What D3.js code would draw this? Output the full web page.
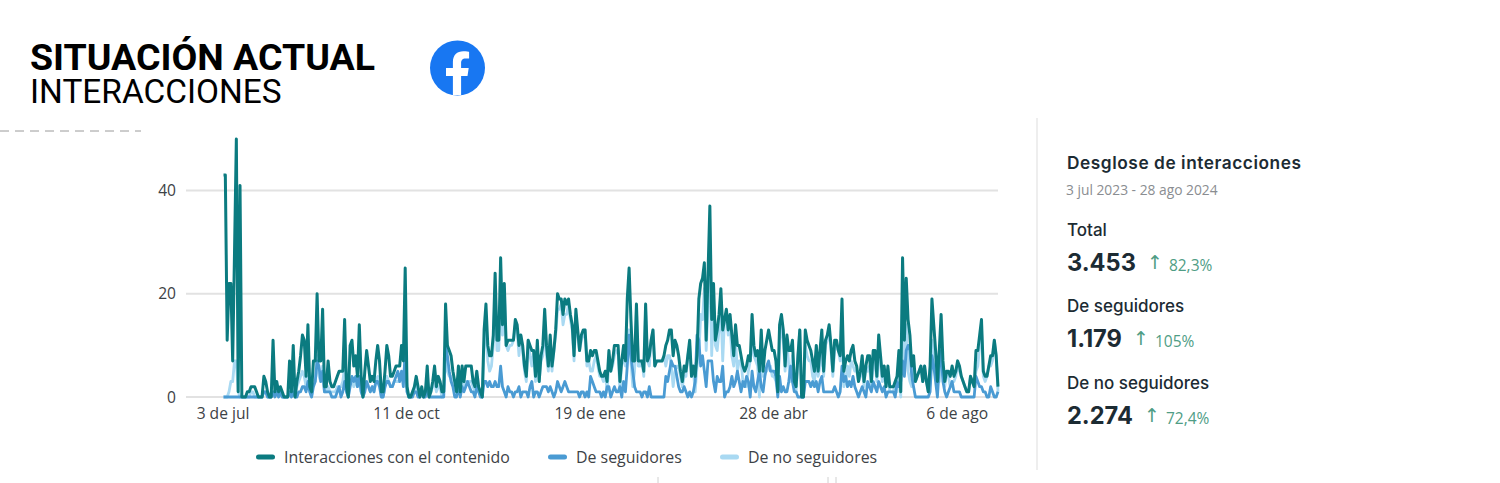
<!DOCTYPE html>
<html lang="es">
<head>
<meta charset="utf-8">
<title>Situación actual - Interacciones</title>
<script src="https://cdn.jsdelivr.net/npm/d3@7"></script>
<style>
  html, body { margin: 0; padding: 0; background: #fff; }
  svg { display: block; }
  .tick text { font-family: "Open Sans", sans-serif; font-size: 15.6px; fill: #3d4246; }
</style>
</head>
<body>
<svg id="chart" width="1500" height="483"></svg>
<script>
// Daily interactions, 3 Jul 2023 - 28 Aug 2024
const totalInteractions = [
  43,43,11,22,22,7,28,50,1,41, 0,0,0,1,1,2,2,2,1,0, 0,0,4,3,1,0,0,11,1,3, 1,2,1,0,0,0,7,1,10,0,
  3,5,8,12,11,4,14,2,1,7, 7,20,7,7,17,2,2,7,3,2, 2,3,4,5,5,5,15,2,0,10, 11,6,8,4,14,4,0,5,9,6,
  3,4,3,7,10,7,1,1,5,10, 8,4,4,5,6,6,6,10,7,25, 2,0,0,1,2,4,2,0,2,0, 1,6,0,1,3,6,2,4,3,1,
  1,18,10,9,8,5,3,1,6,1, 6,3,6,6,6,6,3,2,5,2, 1,0,13,18,10,8,8,12,24,11, 11,27,14,22,10,11,11,11,11,15,
  14,10,12,10,6,4,11,10,9,9, 4,11,3,8,10,17,10,6,12,6, 9,13,20,19,19,16,19,18,19,16, 14,8,17,13,9,12,13,13,7,7,
  9,8,9,9,7,5,4,4,5,3, 9,5,7,10,10,10,3,7,10,
  7,19,25,15,7,7,18,7,7,7, 5,18,7,8,11,13,6,7,7,7, 7,8,10,11,13,13,8,11,10,8, 5,3,6,5,8,11,4,6,4,8,
  19,22,23,26,11,24,37,15,22,11, 13,16,21,13,15,17,13,16,12,8, 14,10,10,8,6,5,6,8,7,16, 10,8,9,5,13,5,9,11,13,11,
  9,9,7,1,14,16,13,6,12,9, 9,11,3,2,8,13,0,0,13,11, 10,9,7,5,10,5,9,13,5,11, 12,14,10,5,11,11,9,8,19,5,
  7,8,7,9,10,7,6,3,5,8, 3,6,8,8,3,9,9,4,12,8, 4,6,2,6,2,2,2,3,4,9, 1,27,11,23,15,12,6,8,3,4,
  5,6,3,6,3,1,6,19,14,9, 3,9,16,7,3,5,5,4,6,4, 5,7,6,4,3,2,1,1,4,3, 2,9,9,12,15,5,4,4,6,8, 8,11,8,2
];
const fromFollowers = [
  0,0,0,0,0,0,0,0,0,0, 0,0,0,0,0,0,0,0,0,0, 0,0,1,1,0,0,0,1,0,1, 0,1,0,0,0,0,1,0,1,0,
  0,1,1,2,2,1,3,1,0,2, 3,7,6,3,5,1,1,1,1,0, 0,0,1,2,0,1,3,1,0,2, 4,3,4,2,4,1,0,1,3,2,
  1,2,1,3,3,2,0,0,2,3, 3,2,2,3,4,5,3,5,2,9, 1,0,0,0,1,1,0,0,1,0, 0,2,0,0,0,0,0,0,0,0,
  0,10,8,5,3,2,0,0,2,0, 2,1,2,3,2,1,1,0,2,1, 0,0,3,3,2,3,2,2,3,2, 2,6,2,1,0,2,1,1,0,1,
  1,2,0,1,1,1,0,2,3,0, 1,1,0,1,2,2,2,1,2,1, 0,1,3,2,1,2,3,2,1,1, 1,1,1,1,0,1,1,0,1,0,
  4,3,2,1,1,1,0,1,0,2, 2,0,1,2,1,1,2,0,3,
  1,6,12,8,5,2,1,1,1,0, 1,1,0,2,0,0,0,0,0,0, 0,0,4,3,5,7,6,6,4,2, 1,1,2,1,0,1,0,1,3,12,
  11,6,8,5,2,7,7,7,3,1, 4,3,3,6,0,1,1,2,4,2, 3,5,3,1,3,2,4,3,0,5, 2,1,3,5,2,1,4,6,7,5,
  5,5,4,0,4,1,2,1,1,3, 6,3,1,1,0,0,0,0,3,3, 3,2,3,2,3,1,3,4,1,1, 1,1,1,1,2,1,0,1,6,3,
  4,2,3,2,4,2,1,0,1,2, 1,0,3,2,1,3,2,1,3,2, 1,2,0,1,1,1,1,0,3,2, 3,7,4,9,10,9,4,2,0,0,
  0,0,0,0,0,0,1,8,6,3, 0,6,9,3,1,0,1,2,3,1, 1,1,1,0,0,0,0,0,0,0, 0,4,3,2,2,1,1,0,0,2, 1,0,0,1
];
const fromNonFollowers = [
  0,0,0,1,3,3,7,7,1,0, 0,0,0,0,0,1,1,0,0,0, 0,0,1,1,0,0,0,1,1,1, 0,1,0,0,0,0,1,0,2,0,
  2,3,4,5,4,2,4,1,0,3, 3,8,4,3,6,1,1,2,1,1, 1,1,2,2,2,3,6,1,0,3, 3,2,3,2,4,1,0,2,3,2,
  1,2,1,3,4,3,0,0,2,4, 3,2,2,3,3,3,3,4,3,8, 1,0,0,1,1,2,1,0,1,0, 1,3,0,1,2,3,1,2,2,0,
  1,8,5,4,4,3,2,1,3,1, 3,2,3,3,3,3,2,1,3,1, 1,0,10,15,7,5,6,10,21,9, 9,21,12,21,10,9,10,10,11,14,
  13,8,12,9,5,3,11,8,6,9, 3,10,3,7,8,15,8,5,10,5, 9,12,17,17,18,14,16,16,18,15, 13,7,16,12,9,11,12,13,6,7,
  5,5,7,8,6,4,4,3,5,1, 7,5,6,8,9,9,1,7,7,
  6,13,13,7,2,5,17,6,6,7, 4,17,7,6,11,13,6,7,7,7, 7,8,6,8,8,6,2,5,6,6, 4,2,4,4,8,10,4,5,1,6,
  8,16,15,21,9,17,30,8,19,10, 9,13,18,7,15,16,12,14,8,6, 11,5,7,7,3,3,2,5,7,11, 8,7,6,0,11,4,5,5,6,6,
  4,4,3,1,10,15,11,5,11,6, 3,8,2,1,8,13,0,0,10,8, 7,7,4,3,7,4,6,9,4,10, 11,13,9,4,9,10,9,7,13,2,
  3,6,4,7,6,5,5,3,4,6, 2,6,5,6,2,6,7,3,9,6, 3,4,2,5,1,1,1,3,1,7, 0,20,7,14,5,3,2,6,3,4,
  5,6,3,6,3,1,5,11,8,6, 3,3,7,4,2,5,4,2,3,3, 4,6,5,4,3,2,1,1,4,3, 2,5,6,10,13,4,3,4,6,6, 7,11,8,1
];

const yTicks = [0, 20, 40];
const xTickDays = [0, 100, 200, 300, 400];
const xTickLabels = ["3 de jul", "11 de oct", "19 de ene", "28 de abr", "6 de ago"];
const legendLabels = ["Interacciones con el contenido", "De seguidores", "De no seguidores"];
const seriesColors = ["#0b7b80", "#4a9bd3", "#a9d9f2"];
const breakdown = [
  { label: "Total", value: "3.453", change: "82,3%" },
  { label: "De seguidores", value: "1.179", change: "105%" },
  { label: "De no seguidores", value: "2.274", change: "72,4%" }
];

const svg = d3.select("#chart");
const x = d3.scaleLinear().domain([0, totalInteractions.length - 1]).range([223.5, 998]);
const y = d3.scaleLinear().domain([0, 50]).range([397, 139]);

// Heading
const fontHead = "Roboto, sans-serif";
svg.append("text").attr("x", 30).attr("y", 69.5)
  .style("font", `700 37.5px ${fontHead}`).attr("fill", "#000").text("SITUACIÓN ACTUAL");
svg.append("text").attr("x", 30).attr("y", 103)
  .style("font", `400 33.4px ${fontHead}`).attr("fill", "#000").text("INTERACCIONES");

// Facebook badge
const badge = svg.append("g").attr("transform", "translate(457.5,68)");
badge.append("circle").attr("r", 27.5).attr("fill", "#1877f2");
badge.append("path").attr("fill", "#fff")
  .attr("d", "M-4.6 27 V8 H-11.5 V0 H-4.6 V-6 C-4.6 -13 -0.5 -16.8 5.8 -16.8 C8.8 -16.8 11.6 -16.3 11.6 -16.3 V-9.5 H8.2 C4.8 -9.5 3.6 -7.4 3.6 -5.2 V0 H11.2 L10 8 H3.6 V27 Z");

// Divider fragments around the chart card
svg.append("line").attr("x1", 0).attr("x2", 141).attr("y1", 131).attr("y2", 131)
  .attr("stroke", "#9a9a9a").attr("stroke-width", 1).attr("stroke-dasharray", "9 6");
svg.append("line").attr("x1", 1037).attr("x2", 1037).attr("y1", 118).attr("y2", 470)
  .attr("stroke", "#e9e9e9").attr("stroke-width", 1.5);
[658, 828, 836].forEach(px => {
  svg.append("line").attr("x1", px).attr("x2", px).attr("y1", 477).attr("y2", 483)
    .attr("stroke", "#d0d0d0").attr("stroke-width", 1);
});

// Grid and value axis
const yAxis = d3.axisLeft(y).tickValues(yTicks).tickSize(0).tickPadding(10);
const yG = svg.append("g").attr("transform", "translate(186,0)").call(yAxis);
yG.select(".domain").remove();
svg.append("g").attr("class", "grid").selectAll("line").data(yTicks).join("line")
  .attr("x1", 186).attr("x2", 998)
  .attr("y1", d => y(d)).attr("y2", d => y(d))
  .attr("stroke", "#e2e2e2").attr("stroke-width", 2);

// Date axis
const xAxis = d3.axisBottom(x).tickValues(xTickDays)
  .tickFormat((d, i) => xTickLabels[i]).tickSize(0).tickPadding(11);
const xG = svg.append("g").attr("transform", "translate(-1,397)").call(xAxis);
xG.select(".domain").remove();

// Series: lightest underneath, total on top
const line = d3.line().x((d, i) => x(i)).y(d => y(d)).curve(d3.curveLinear);
[[fromNonFollowers, seriesColors[2], 2.8], [fromFollowers, seriesColors[1], 2.8], [totalInteractions, seriesColors[0], 3]]
  .forEach(([values, color, width]) => {
    svg.append("path").datum(values)
      .attr("fill", "none").attr("stroke", color)
      .attr("stroke-width", width).attr("stroke-linejoin", "round")
      .attr("d", line);
  });

// Legend
const legendX = [256, 548, 720];
const legend = svg.append("g").selectAll("g").data(legendLabels).join("g")
  .attr("transform", (d, i) => `translate(${legendX[i]},457)`);
legend.append("rect").attr("x", 0).attr("y", -2.5).attr("width", 19).attr("height", 5).attr("rx", 2.5)
  .attr("fill", (d, i) => seriesColors[i]);
legend.append("text").attr("x", 28).attr("y", 5.5)
  .style("font", '400 15.9px "Open Sans", sans-serif').attr("fill", "#3d4246").text(d => d);

// Breakdown panel
const panelFont = "Inter, sans-serif";
svg.append("text").attr("x", 1067).attr("y", 169)
  .style("font", `600 17.3px ${panelFont}`).style("letter-spacing", "0.55px")
  .attr("fill", "#1c2b33").text("Desglose de interacciones");
svg.append("text").attr("x", 1066).attr("y", 194.5)
  .style("font", '400 13.8px "Open Sans", sans-serif').attr("fill", "#8a8d91").text("3 jul 2023 - 28 ago 2024");

const rowTop = [235.5, 311.5, 388.5];
const rows = svg.append("g").selectAll("g").data(breakdown).join("g")
  .attr("transform", (d, i) => `translate(1067,${rowTop[i]})`);
rows.append("text").attr("y", 0)
  .style("font", `500 17px ${panelFont}`).attr("fill", "#1c2b33").text(d => d.label);
rows.append("text").attr("class", "val").attr("y", 35)
  .style("font", `700 23.6px ${panelFont}`).attr("fill", "#1c2b33").text(d => d.value);
rows.each(function () {
  const g = d3.select(this);
  const w = g.select(".val").node().getComputedTextLength();
  g.append("text").attr("x", w + 11).attr("y", 33)
    .style("font", '400 19px "DejaVu Sans", sans-serif').attr("fill", "#4f9d85").text("↑");
  g.append("text").attr("x", w + 33).attr("y", 35)
    .style("font", '400 15.5px "Open Sans", sans-serif').attr("fill", "#4f9d85")
    .text(d => d.change);
});
</script>
</body>
</html>
